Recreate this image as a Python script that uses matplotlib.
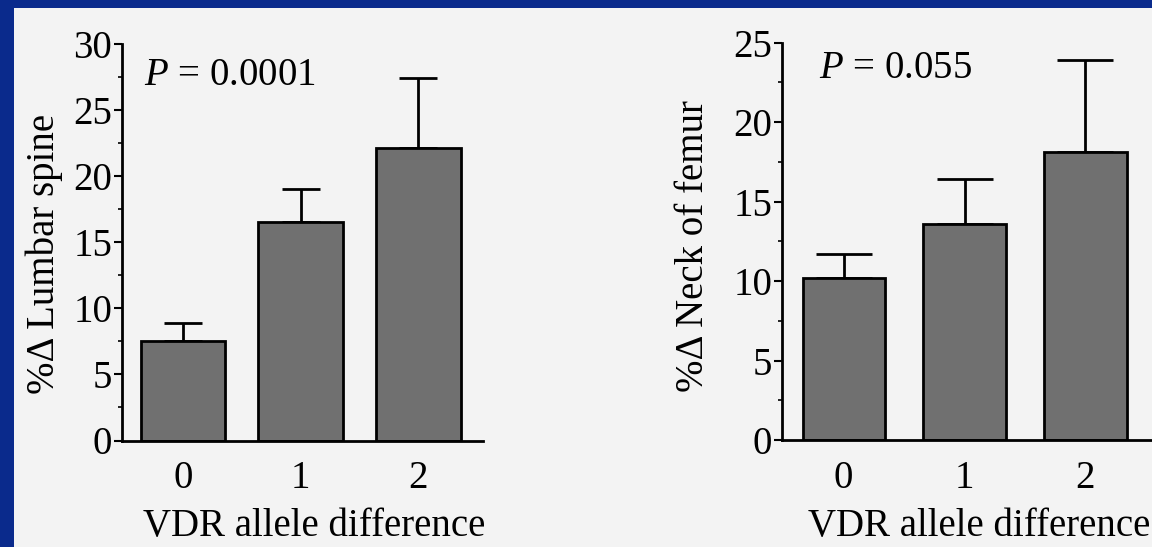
import numpy as np
import matplotlib.pyplot as plt
from matplotlib.patches import Rectangle
from matplotlib.ticker import MultipleLocator

# datos
alelos = ['0', '1', '2']
lumbar = [7.5, 16.5, 22.1]
lumbar_err = [1.4, 2.5, 5.3]
femur = [10.2, 13.6, 18.1]
femur_err = [1.5, 2.8, 5.8]

plt.rcParams['font.family'] = ['Liberation Serif', 'DejaVu Serif']
plt.rcParams['mathtext.fontset'] = 'custom'
plt.rcParams['mathtext.rm'] = 'Liberation Serif'
plt.rcParams['mathtext.it'] = 'Liberation Serif:italic'

fig = plt.figure(figsize=(11.52, 5.47), dpi=100)
fig.patch.set_facecolor('#0a2a8c')
# panel claro dentro del marco azul
fig.patches.append(Rectangle((14 / 1152, 0), 1, 1 - 8 / 547, transform=fig.transFigure,
                             facecolor='#f3f3f3', edgecolor='none', zorder=-10))

FS = 28


def panel(rect, valores, errores, ymax, ylabel, ptexto, pxy, xlim, ancho, capsize, ylab_xy):
    ax = fig.add_axes(rect)
    ax.set_facecolor('none')
    x = np.arange(len(alelos))
    ax.bar(x, valores, width=ancho, color='#707070', edgecolor='black', linewidth=2, zorder=2)
    ax.errorbar(x, valores, yerr=[np.zeros(len(errores)), errores], fmt='none',
                ecolor='black', elinewidth=2, capsize=capsize, capthick=2, zorder=1)
    ax.set_xlim(*xlim)
    ax.set_ylim(0, ymax)
    ax.set_xticks(x)
    ax.set_xticklabels(alelos)
    ax.yaxis.set_major_locator(MultipleLocator(5))
    ax.yaxis.set_minor_locator(MultipleLocator(2.5))
    ax.tick_params(axis='x', length=0, pad=14, labelsize=FS)
    ax.tick_params(axis='y', which='major', length=6, width=1.5, pad=1, labelsize=FS)
    ax.tick_params(axis='y', which='minor', length=3, width=1.2)
    for s in ['top', 'right']:
        ax.spines[s].set_visible(False)
    for s in ['left', 'bottom']:
        ax.spines[s].set_linewidth(2)
    ax.set_ylabel(ylabel, fontsize=FS)
    ax.yaxis.set_label_coords(*ylab_xy)
    ax.set_xlabel('VDR allele difference', fontsize=FS, labelpad=8)
    ax.xaxis.label.set_x(0.532)
    ax.text(pxy[0], pxy[1], ptexto, transform=ax.transAxes, fontsize=FS, va='center')
    return ax


panel([122 / 1152, 1 - 440.5 / 547, 361 / 1152, 397 / 547], lumbar, lumbar_err, 30,
      '%Δ Lumbar spine', r'$\mathit{P}$ = 0.0001', (0.06, 0.92), (-0.52, 2.55), 0.72, 14,
      (-0.163, 0.47))
panel([782 / 1152, 1 - 440.2 / 547, 370 / 1152, 397.6 / 547], femur, femur_err, 25,
      '%Δ Neck of femur', r'$\mathit{P}$ = 0.055', (0.1, 0.935), (-0.51, 2.55), 0.68, 20,
      (-0.188, 0.488))

fig.savefig('out.png', dpi=100, facecolor=fig.get_facecolor())
